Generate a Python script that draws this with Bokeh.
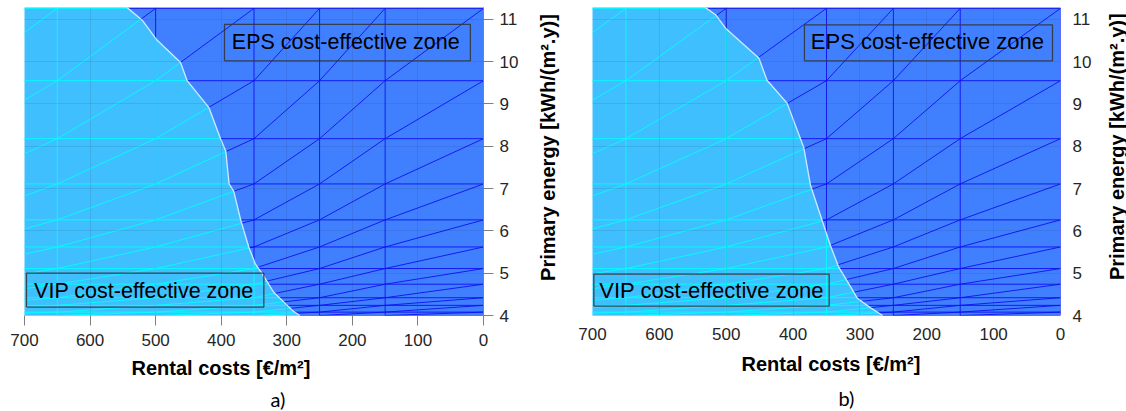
import numpy as np
from bokeh.plotting import figure
from bokeh.models import Range1d, FixedTicker, Label, Title
from bokeh.layouts import row
from bokeh.embed import file_html
from bokeh.resources import INLINE

# ---------------- data ----------------
x_ticks = [0, 100, 200, 300, 400, 500, 600, 700]
y_ticks = [4, 5, 6, 7, 8, 9, 10, 11]

# nodes of the triangulated mesh (rental cost, primary energy)
mesh_cost_nodes = [800, 650, 500, 350, 250, 150, 0]
mesh_energy_nodes = [4.0, 4.08, 4.24, 4.42, 4.74, 5.11, 5.62, 6.26, 7.11, 8.18, 9.55, 11.26]

# boundary between VIP zone (left) and EPS zone (right)
a_boundary_energy = [4.0, 4.10, 4.31, 4.55, 4.98, 5.22, 5.62, 6.24, 6.94, 7.11, 7.88, 8.18,
                     8.92, 9.55, 9.98, 10.51, 10.97, 11.30]
a_boundary_cost = [280, 290, 304, 320, 337, 348, 358, 370, 381, 388, 393, 401,
                   419, 452, 462, 498, 520, 545]

b_boundary_energy = [4.0, 4.18, 4.41, 4.76, 5.15, 5.65, 6.27, 7.08, 7.97, 9.02, 9.56,
                     10.08, 10.79, 11.11, 11.30]
b_boundary_cost = [266, 284, 304, 317, 332, 344, 357, 374, 384, 409, 439,
                   451, 501, 516, 533]

eps_text = "EPS cost-effective zone"
vip_text = "VIP cost-effective zone"
x_label = "Rental costs [€/m²]"
y_label = "Primary energy [kWh/(m².y)]"

LIGHT = "#40bfff"
DARK = "#4080ff"
FONT = "Liberation Sans"
H = 411


def split_mesh(bx, by, xn, yn):
    segs = []
    for j in range(len(yn)):
        for i in range(len(xn) - 1):
            segs.append((xn[i], yn[j], xn[i + 1], yn[j]))
    for i in range(len(xn)):
        for j in range(len(yn) - 1):
            segs.append((xn[i], yn[j], xn[i], yn[j + 1]))
    for i in range(len(xn) - 1):
        for j in range(len(yn) - 1):
            segs.append((xn[i], yn[j], xn[i + 1], yn[j + 1]))
    lx, ly, dx, dy = [], [], [], []
    t = np.linspace(0, 1, 601)
    for (x0, y0, x1, y1) in segs:
        xs = x0 + (x1 - x0) * t
        ys = y0 + (y1 - y0) * t
        f = xs - np.interp(ys, by, bx)
        cuts = [0.0]
        for k in range(len(t) - 1):
            if (f[k] > 0) != (f[k + 1] > 0):
                cuts.append(t[k] + (t[k + 1] - t[k]) * f[k] / (f[k] - f[k + 1]))
        cuts.append(1.0)
        for a, b in zip(cuts[:-1], cuts[1:]):
            if b - a < 1e-9:
                continue
            tm = 0.5 * (a + b)
            xm = x0 + (x1 - x0) * tm
            ym = y0 + (y1 - y0) * tm
            px = [x0 + (x1 - x0) * a, x0 + (x1 - x0) * b]
            py = [y0 + (y1 - y0) * a, y0 + (y1 - y0) * b]
            if xm > np.interp(ym, by, bx):
                lx.append(px); ly.append(py)
            else:
                dx.append(px); dy.append(py)
    return lx, ly, dx, dy


def make_panel(bx, by, width, border_left, border_right, border_bottom, ticks,
               eps_box, eps_pos, vip_box, vip_pos, text_size,
               xlab_offset, xlab_standoff, cap_offset, caption,
               label_standoff_x, label_standoff_y):
    p = figure(width=width, height=H, x_range=Range1d(700, 0), y_range=Range1d(4.0, 11.28),
               y_axis_location="right", toolbar_location=None, output_backend="svg",
               min_border_left=border_left, min_border_right=border_right,
               min_border_top=7, min_border_bottom=border_bottom)
    p.outline_line_color = None
    p.background_fill_color = "white"
    p.border_fill_color = "white"

    x_lo, x_hi = 700, 0
    y_lo = 4.0
    light_x = [x_lo + 20] + [bx[0]] + list(bx) + [x_lo + 20]
    light_y = [y_lo - 0.2, y_lo - 0.2] + list(by) + [by[-1]]
    dark_x = [bx[0]] + list(bx) + [x_hi - 20, x_hi - 20]
    dark_y = [y_lo - 0.2] + list(by) + [by[-1], y_lo - 0.2]
    p.patch(light_x, light_y, fill_color=LIGHT, line_color=None)
    p.patch(dark_x, dark_y, fill_color=DARK, line_color=None)

    lx, ly, dx, dy = split_mesh(bx, by, mesh_cost_nodes, mesh_energy_nodes)
    p.multi_line(lx, ly, line_color="#00ffff", line_width=1, line_alpha=0.9)
    p.multi_line(dx, dy, line_color="#1010f0", line_width=1, line_alpha=0.9)
    p.line(list(bx), list(by), line_color="#c8ecff", line_width=1.3)

    p.grid.level = "overlay"
    p.grid.grid_line_color = "#1a1a1a"
    p.grid.grid_line_alpha = 0.10

    for ax in (p.xaxis[0], p.yaxis[0]):
        ax.major_label_text_font = FONT
        ax.major_label_text_font_size = "17px"
        ax.major_label_text_color = "#262626"
        ax.minor_tick_line_color = None
        ax.major_tick_in = 0
        if ticks:
            ax.major_tick_out = 10
            ax.major_tick_line_color = "#808080"
        else:
            ax.major_tick_out = 0
            ax.major_tick_line_color = None
    p.xaxis.ticker = FixedTicker(ticks=x_ticks)
    p.yaxis.ticker = FixedTicker(ticks=y_ticks)
    p.xaxis.axis_line_color = None
    p.yaxis.axis_line_color = "#808080" if ticks else None
    p.xaxis.major_label_standoff = label_standoff_x
    p.yaxis.major_label_standoff = label_standoff_y

    for (bx0, bx1, by0, by1) in (eps_box, vip_box):
        p.line([bx0, bx1, bx1, bx0, bx0], [by0, by0, by1, by1, by0],
               line_color="#333333", line_width=1.3, line_alpha=0.85)
    p.add_layout(Label(x=eps_pos[0], y=eps_pos[1], text=eps_text, text_align="center",
                       text_baseline="middle", text_font=FONT, text_font_size=text_size,
                       text_color="black"))
    p.add_layout(Label(x=vip_pos[0], y=vip_pos[1], text=vip_text, text_align="center",
                       text_baseline="middle", text_font=FONT, text_font_size=text_size,
                       text_color="black"))

    p.add_layout(Title(text=x_label, align="left", offset=xlab_offset, text_font=FONT,
                       text_font_style="bold", text_font_size="20px", text_color="black",
                       standoff=xlab_standoff), "below")
    p.add_layout(Title(text=caption, align="left", offset=cap_offset, text_font="Lato",
                       text_font_style="normal", text_font_size="20px", text_color="black",
                       standoff=0), "below")
    return p


def make_ylabel(panel, width, cx, cy_value):
    # shares the panel's energy range, so the label sits at a given energy level
    q = figure(width=width, height=H, x_range=Range1d(0, width), y_range=panel.y_range,
               toolbar_location=None, output_backend="svg", x_axis_type=None, y_axis_type=None,
               min_border=0)
    q.outline_line_color = None
    q.grid.visible = False
    q.add_layout(Label(x=cx, y=cy_value, text=y_label, angle=np.pi / 2, text_align="center",
                       text_baseline="middle", text_font=FONT, text_font_style="bold",
                       text_font_size="20px", text_color="black"))
    return q


pa = make_panel(a_boundary_cost, a_boundary_energy, width=532, border_left=24, border_right=49,
                border_bottom=96, ticks=True,
                eps_box=(395, 20, 10.02, 10.88), eps_pos=(210, 10.46),
                vip_box=(697, 335, 4.2, 5.0), vip_pos=(518, 4.58), text_size="21.5px",
                xlab_offset=107, xlab_standoff=12, cap_offset=246, caption="a)",
                label_standoff_x=8, label_standoff_y=6)
la = make_ylabel(pa, 28, 15, 7.97)

pb = make_panel(b_boundary_cost, b_boundary_energy, width=540, border_left=32, border_right=40,
                border_bottom=92, ticks=False,
                eps_box=(383, 12, 10.02, 10.87), eps_pos=(199, 10.47),
                vip_box=(698, 346, 4.22, 4.98), vip_pos=(522, 4.59), text_size="22px",
                xlab_offset=149, xlab_standoff=17, cap_offset=246, caption="b)",
                label_standoff_x=12, label_standoff_y=12)
lb = make_ylabel(pb, 26, 16, 7.99)

layout = row(pa, la, pb, lb)
open("out.html", "w").write(file_html(layout, INLINE))
